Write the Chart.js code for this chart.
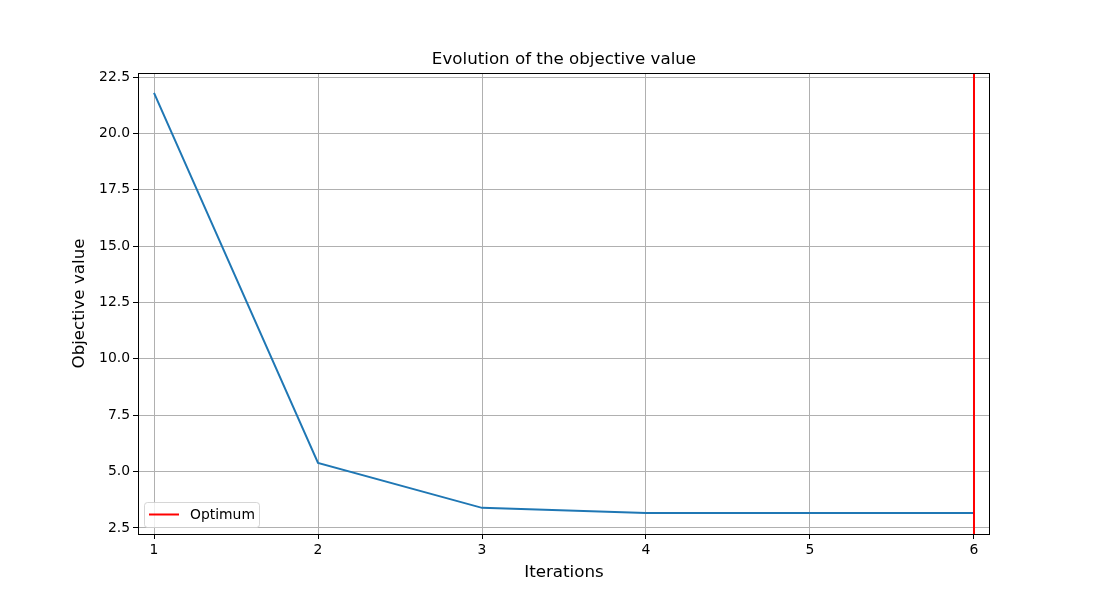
<!DOCTYPE html>
<html>
<head>
<meta charset="utf-8">
<script src="https://cdn.jsdelivr.net/npm/chart.js@4/dist/chart.umd.min.js"></script>
<style>
  html, body { margin: 0; padding: 0; background: #fff; }
  #chart { display: block; }
</style>
</head>
<body>
<canvas id="chart" width="1100" height="600"></canvas>
<script>
// Objective value per iteration
const iterations = [1, 2, 3, 4, 5, 6];
const objectiveValues = [21.8, 5.38, 3.39, 3.16, 3.16, 3.16];
const optimumIteration = 6;

// Axis ticks and limits
const xTicks = [1, 2, 3, 4, 5, 6];
const yTicks = [2.5, 5.0, 7.5, 10.0, 12.5, 15.0, 17.5, 20.0, 22.5];
const xMin = 0.9024, xMax = 6.0976;
const yMin = 2.23, yMax = 22.68;

const FONT = 'DejaVu Sans';
const chartTitle = 'Evolution of the objective value';

// Title centred over the plot area, like matplotlib
const titlePlugin = {
    id: 'axesTitle',
    afterDraw(chart) {
        const { ctx, chartArea: a } = chart;
        ctx.save();
        ctx.fillStyle = '#000';
        ctx.font = '16.7px "' + FONT + '"';
        ctx.textAlign = 'center';
        ctx.textBaseline = 'middle';
        ctx.fillText(chartTitle, (a.left + a.right) / 2, a.top - 13);
        ctx.restore();
    }
};

// Frame around the plot area (matplotlib spines)
const framePlugin = {
    id: 'frame',
    afterDatasetsDraw(chart) {
        const { ctx, chartArea: a } = chart;
        ctx.save();
        ctx.strokeStyle = '#000';
        ctx.lineWidth = 1;
        ctx.strokeRect(Math.round(a.left) + 0.5, Math.round(a.top) + 0.5,
            Math.round(a.right - a.left) - 1, Math.round(a.bottom - a.top));
        ctx.restore();
    }
};

// Legend box in the lower-left corner of the plot
const legendPlugin = {
    id: 'innerLegend',
    afterDraw(chart) {
        const { ctx, chartArea: a } = chart;
        const x = a.left + 6, w = 115, h = 25;
        const y = a.bottom - 32;
        ctx.save();
        ctx.fillStyle = 'rgba(255,255,255,0.8)';
        ctx.strokeStyle = 'rgba(204,204,204,0.8)';
        ctx.lineWidth = 1;
        ctx.beginPath();
        ctx.roundRect(x + 0.5, y + 0.5, w, h, 3);
        ctx.fill();
        ctx.stroke();
        ctx.strokeStyle = 'red';
        ctx.lineWidth = 2;
        ctx.beginPath();
        ctx.moveTo(x + 5, y + 12.5);
        ctx.lineTo(x + 35, y + 12.5);
        ctx.stroke();
        ctx.fillStyle = '#000';
        ctx.font = '13.9px "' + FONT + '"';
        ctx.textBaseline = 'middle';
        ctx.fillText('Optimum', x + 46, y + 13);
        ctx.restore();
    }
};

new Chart(document.getElementById('chart'), {
    type: 'line',
    data: {
        datasets: [
            {
                label: 'Optimum',
                data: [{ x: optimumIteration, y: yMin }, { x: optimumIteration, y: yMax }],
                borderColor: 'red',
                borderWidth: 2,
                pointRadius: 0,
                tension: 0
            },
            {
                label: 'Objective value',
                data: iterations.map((it, i) => ({ x: it, y: objectiveValues[i] })),
                borderColor: '#1f77b4',
                borderWidth: 2,
                pointRadius: 0,
                tension: 0
            }
        ]
    },
    options: {
        responsive: false,
        animation: false,
        layout: { padding: { left: 0, right: 110, top: 73, bottom: 0 } },
        plugins: {
            legend: { display: false },
            tooltip: { enabled: false },
            title: { display: false }
        },
        scales: {
            x: {
                type: 'linear',
                min: xMin,
                max: xMax,
                afterBuildTicks: s => { s.ticks = xTicks.map(v => ({ value: v })); },
                afterFit: s => { s.height = 66; },
                grid: { color: '#b0b0b0', lineWidth: 1, tickColor: '#000', tickLength: 5 },
                border: { display: false },
                ticks: {
                    color: '#000',
                    padding: 3,
                    maxRotation: 0,
                    font: { family: FONT, size: 13.9 },
                    callback: v => String(v)
                },
                title: {
                    display: true,
                    text: 'Iterations',
                    color: '#000',
                    font: { family: FONT, size: 16.7 },
                    padding: { top: 4, bottom: 17 }
                }
            },
            y: {
                type: 'linear',
                min: yMin,
                max: yMax,
                afterBuildTicks: s => { s.ticks = yTicks.map(v => ({ value: v })); },
                afterFit: s => { s.width = 138; },
                grid: { color: '#b0b0b0', lineWidth: 1, tickColor: '#000', tickLength: 5 },
                border: { display: false },
                ticks: {
                    color: '#000',
                    padding: 3,
                    font: { family: FONT, size: 13.9 },
                    callback: v => Number(v).toFixed(1)
                },
                title: {
                    display: true,
                    text: 'Objective value',
                    color: '#000',
                    font: { family: FONT, size: 16.7 },
                    padding: { top: 70, bottom: 0 }
                }
            }
        }
    },
    plugins: [framePlugin, legendPlugin, titlePlugin]
});
</script>
</body>
</html>
